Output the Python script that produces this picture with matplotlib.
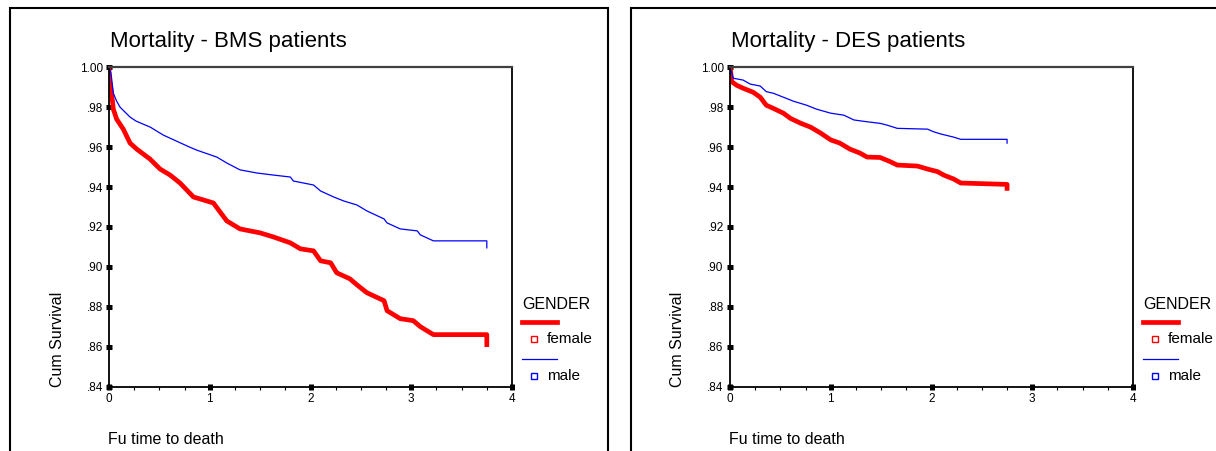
import matplotlib.pyplot as plt
import matplotlib.patches as mpatches
from matplotlib.lines import Line2D
from matplotlib.ticker import FuncFormatter, MultipleLocator

plt.rcParams['font.family'] = ['Liberation Sans', 'DejaVu Sans']

# Kaplan-Meier estimates (time in years, cum survival)
bms_female_t = [0, 0, 0.026, 0.043, 0.076, 0.142, 0.209, 0.275, 0.407, 0.507, 0.606, 0.705,
                0.838, 0.970, 1.036, 1.169, 1.30, 1.50, 1.63, 1.80, 1.90, 2.03, 2.10, 2.20,
                2.26, 2.39, 2.46, 2.56, 2.73, 2.76, 2.89, 3.02, 3.09, 3.22, 3.75, 3.75]
bms_female_s = [1.0, 0.995, 0.987, 0.979, 0.974, 0.969, 0.962, 0.959, 0.954, 0.949, 0.946, 0.942,
                0.935, 0.933, 0.932, 0.923, 0.919, 0.917, 0.915, 0.912, 0.909, 0.908, 0.903, 0.902,
                0.897, 0.894, 0.891, 0.887, 0.883, 0.878, 0.874, 0.873, 0.870, 0.866, 0.866, 0.861]
bms_male_t = [0, 0.02, 0.043, 0.076, 0.11, 0.21, 0.27, 0.41, 0.54, 0.67, 0.80, 0.87, 1.07, 1.17,
              1.30, 1.47, 1.63, 1.80, 1.83, 2.03, 2.10, 2.23, 2.33, 2.46, 2.56, 2.73, 2.76, 2.89,
              3.06, 3.09, 3.22, 3.75, 3.75]
bms_male_s = [1.0, 0.997, 0.987, 0.983, 0.980, 0.975, 0.973, 0.970, 0.966, 0.963, 0.960, 0.9585,
              0.955, 0.952, 0.9486, 0.947, 0.946, 0.945, 0.943, 0.941, 0.938, 0.935, 0.933, 0.931,
              0.928, 0.924, 0.922, 0.919, 0.918, 0.916, 0.913, 0.913, 0.9095]

des_female_t = [0, 0.005, 0.017, 0.066, 0.13, 0.23, 0.30, 0.36, 0.43, 0.53, 0.60, 0.70, 0.80,
                0.90, 1.0, 1.09, 1.19, 1.29, 1.36, 1.49, 1.59, 1.66, 1.86, 1.96, 2.06, 2.12,
                2.22, 2.29, 2.75, 2.75]
des_female_s = [1.0, 0.9987, 0.9928, 0.991, 0.9895, 0.9875, 0.985, 0.981, 0.9794, 0.977, 0.9744,
                0.972, 0.970, 0.967, 0.9636, 0.962, 0.959, 0.957, 0.955, 0.9548, 0.9527, 0.951,
                0.9505, 0.949, 0.9477, 0.946, 0.944, 0.942, 0.9413, 0.9393]
des_male_t = [0, 0.007, 0.033, 0.13, 0.20, 0.30, 0.36, 0.43, 0.53, 0.63, 0.76, 0.86, 1.0, 1.13,
              1.23, 1.36, 1.49, 1.56, 1.66, 1.96, 2.02, 2.09, 2.22, 2.29, 2.75, 2.75]
des_male_s = [1.0, 0.9987, 0.9945, 0.9936, 0.9916, 0.9906, 0.9878, 0.987, 0.985, 0.983, 0.981,
              0.979, 0.977, 0.976, 0.9736, 0.9727, 0.9719, 0.971, 0.9694, 0.969, 0.9677, 0.9666,
              0.965, 0.9639, 0.9639, 0.962]

titles = ['Mortality - BMS patients', 'Mortality - DES patients']
groups = ['female', 'male']
y_ticks = [0.84, 0.86, 0.88, 0.90, 0.92, 0.94, 0.96, 0.98, 1.00]

W, H = 1216, 451
fig = plt.figure(figsize=(W / 100, H / 100), dpi=100)


def fx(px):
    return px / W


def fy(py):
    return 1 - py / H


panels = [
    (bms_female_t, bms_female_s, bms_male_t, bms_male_s, 109, 10),
    (des_female_t, des_female_s, des_male_t, des_male_s, 730, 631),
]

for i, (ft, fs, mt, ms, x0, bx) in enumerate(panels):
    # outer frame of each panel (runs off the page at the bottom / right)
    fig.add_artist(mpatches.Rectangle((fx(bx), fy(470)), fx(598 if i == 0 else 700), fy(8) - fy(470),
                                      fill=False, lw=1.5, ec='black',
                                      transform=fig.transFigure, clip_on=False))

    ax = fig.add_axes([fx(x0), fy(386.5), fx(403), fy(67.3) - fy(386.5)])
    ax.plot(ft, fs, color='#ff0000', lw=3.4)
    ax.plot(mt, ms, color='#0000ff', lw=0.9)
    ax.set_xlim(0, 4)
    ax.set_ylim(0.84, 1.00)
    ax.set_yticks(y_ticks)
    ax.yaxis.set_major_formatter(FuncFormatter(
        lambda v, p: '1.00' if v > 0.999 else ('%.2f' % v)[1:]))
    ax.xaxis.set_major_locator(MultipleLocator(1))
    ax.xaxis.set_minor_locator(MultipleLocator(0.25))
    ax.xaxis.set_major_formatter(FuncFormatter(lambda v, p: '%d' % v))
    ax.tick_params(which='major', direction='inout', length=4, width=3.6, labelsize=8.5, pad=2.5)
    ax.tick_params(axis='x', which='minor', direction='out', length=2.5, width=0.8)
    for s in ['left', 'bottom', 'right']:
        ax.spines[s].set_linewidth(1.3)
        ax.spines[s].set_color('black')
    ax.spines['top'].set_linewidth(1.6)
    ax.spines['top'].set_color('#404040')

    fig.text(fx(x0 + 1), fy(46.5), titles[i], fontsize=16, ha='left', va='baseline')
    fig.text(fx(x0 - 1), fy(444), 'Fu time to death', fontsize=11.5, ha='left', va='baseline')
    fig.text(fx(x0 - 52), fy(387), 'Cum Survival', fontsize=11.5, rotation=90,
             ha='center', va='bottom')

    # legend, SPSS style
    lx = x0 + 413
    fig.text(fx(lx), fy(309), 'GENDER', fontsize=11.5, ha='left', va='baseline')
    for j, (g, c, lw) in enumerate(zip(groups, ['#ff0000', '#0000ff'], [3.4, 0.9])):
        ly = 322 + 37 * j
        fig.add_artist(Line2D([fx(lx), fx(lx + 35)], [fy(ly), fy(ly)], color=c, lw=lw,
                              transform=fig.transFigure))
        fig.add_artist(Line2D([fx(lx + 12)], [fy(ly + 17)], marker='s', ms=4.5, mfc='white',
                              mec=c, mew=1, transform=fig.transFigure))
        fig.text(fx(lx + 25), fy(ly + 17), g, fontsize=11, ha='left', va='center')

fig.savefig('out.png', dpi=100)
